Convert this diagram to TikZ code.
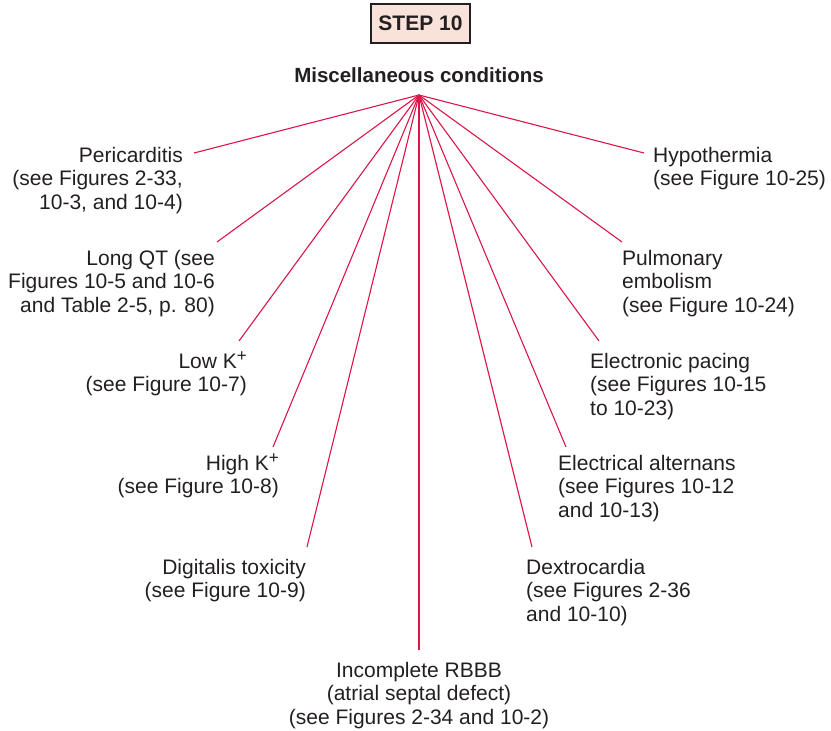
\documentclass[tikz,border=0pt]{standalone}
\usepackage{fontspec}
\setmainfont{Liberation Sans}
\definecolor{txt}{HTML}{231F20}
\definecolor{conn}{RGB}{218,22,72}
\definecolor{boxfill}{HTML}{F9E2DA}
\newcommand{\kplus}{K\raisebox{0.6ex}{\fontsize{17}{17}\selectfont +}}
\begin{document}
\begin{tikzpicture}[x=1pt,y=-1pt,
  lbl/.style={inner sep=0pt,text=txt,font=\fontsize{21}{23.5}\selectfont},
  lft/.style={lbl,align=right,anchor=base east},
  rgt/.style={lbl,align=left,anchor=base west},
  ctr/.style={lbl,align=center,anchor=base},
  conline/.style={draw=conn,line width=1.1pt}]
\useasboundingbox (0,0) rectangle (831,731);
\node[draw=txt,line width=1.2pt,fill=boxfill,minimum width=99pt,minimum height=39pt,inner sep=0pt,
  font=\fontsize{21}{24}\selectfont\bfseries,text=txt] (step) at (420.5,23.5) {STEP 10};
\node[inner sep=0pt,font=\fontsize{20.5}{24}\selectfont\bfseries,text=txt,anchor=base] (title) at (419,82) {Miscellaneous conditions};
\coordinate (hub) at (419,95);
% left labels (base anchor = baseline of last line)
\node[lft] (peri) at (183,209) {Pericarditis\\(see Figures 2-33,\\10-3, and 10-4)};
\node[lft] (lqt) at (215,312) {Long QT (see\\Figures 10-5 and 10-6\\and Table 2-5, p. 80)};
\node[lft] (lowk) at (247,391.5) {Low \kplus\\(see Figure 10-7)};
\node[lft] (highk) at (279,493.5) {High \kplus\\(see Figure 10-8)};
\node[lft] (digi) at (306,597.5) {Digitalis toxicity\\(see Figure 10-9)};
\node[ctr] (rbbb) at (419,724) {Incomplete RBBB\\(atrial septal defect)\\(see Figures 2-34 and 10-2)};
% right labels
\node[rgt] (dextro) at (526,621) {Dextrocardia\\(see Figures 2-36\\and 10-10)};
\node[rgt] (alt) at (558,517) {Electrical alternans\\(see Figures 10-12\\and 10-13)};
\node[rgt] (pace) at (590,415) {Electronic pacing\\(see Figures 10-15\\to 10-23)};
\node[rgt] (pulm) at (622,312) {Pulmonary\\embolism\\(see Figure 10-24)};
\node[rgt] (hypo) at (653,185.5) {Hypothermia\\(see Figure 10-25)};
% connector ends
\coordinate (eperi) at (194,153);
\coordinate (elqt) at (217,242);
\coordinate (elowk) at (239,341);
\coordinate (ehighk) at (273,447);
\coordinate (edigi) at (307,547);
\coordinate (erbbb) at (419,650);
\coordinate (edextro) at (532,547);
\coordinate (ealt) at (566,447);
\coordinate (epace) at (599,341);
\coordinate (epulm) at (622,242);
\coordinate (ehypo) at (644,153);
\foreach \e in {eperi,elqt,elowk,ehighk,edigi,erbbb,edextro,ealt,epace,epulm,ehypo}
  \draw[conline] (hub) -- (\e);
\end{tikzpicture}
\end{document}
